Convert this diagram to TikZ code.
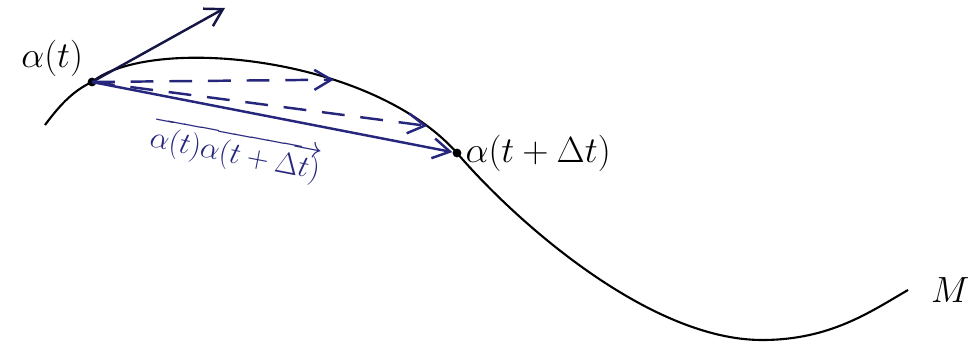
\documentclass[tikz,border=0pt]{standalone}
\usetikzlibrary{arrows.meta,positioning,calc}
\definecolor{inkblue}{RGB}{38,38,125}
\definecolor{inkdark}{RGB}{22,22,70}

\begin{document}
\begin{tikzpicture}[x=0.02cm, y=-0.02cm,
  curv/.style={line width=1.2pt, draw=black},
  vec/.style={-{Straight Barb[length=3.4mm,width=4mm]}, line width=1.4pt, draw=inkblue},
  sec/.style={vec, dash pattern=on 13pt off 9pt},
  pt/.style={circle, fill=black, inner sep=0pt, minimum size=5pt},
  lab/.style={font=\fontsize{21}{24}\selectfont, inner sep=1pt},
  vlab/.style={font=\fontsize{16}{19}\selectfont, text=inkblue, inner sep=2pt}
]
\useasboundingbox (0,0) rectangle (973,348);
% points on the curve
\node[pt] (a) at (92,82) {};
\node[pt] (b) at (457,153) {};
\coordinate (bot) at (762,340);
\coordinate (end) at (908,290);
\coordinate (tip) at (225,8);
% the curve
\draw[curv] (45,125) .. controls (62,102) and (75,90) .. (a.center)
  .. controls (150,35) and (370,55) .. coordinate[pos=0.66] (c1) coordinate[pos=0.9] (c2) (b.center)
  .. controls (517,223) and (650,340) .. (bot)
  .. controls (830,340) and (870,312) .. (end);
% vectors
\draw[vec, draw=inkdark] (a.center) -- (tip);
\draw[sec] (a.center) -- (c1);
\draw[sec] (a.center) -- (c2);
\draw[vec] (a.center) -- node[vlab, pos=0.42, below=9pt, sloped] {$\overrightarrow{\alpha(t)\alpha(t+\Delta t)}$} (b);
% labels
\node[lab, above left=0pt and 2pt of a] {$\alpha(t)$};
\node[lab, right=1pt of b] {$\alpha(t+\Delta t)$};
\node[lab, right=12pt of end] {$M$};
\end{tikzpicture}
\end{document}
